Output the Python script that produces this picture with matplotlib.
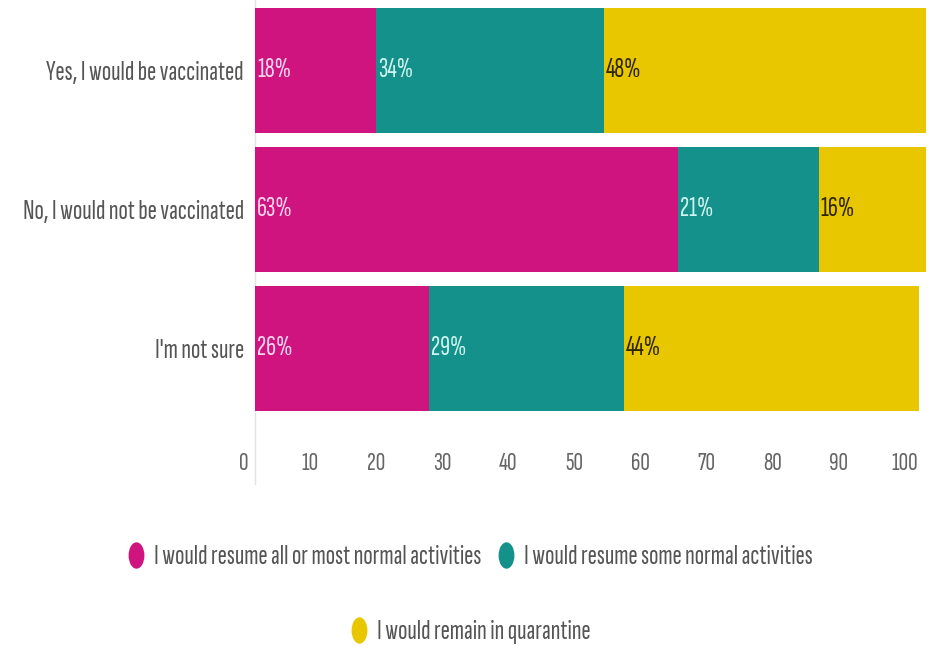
import numpy as np
import matplotlib
matplotlib.use("Agg")
import matplotlib.pyplot as plt
from matplotlib.path import Path
from matplotlib.transforms import Affine2D, ScaledTranslation
from matplotlib.lines import Line2D

plt.rcParams['font.family'] = ['Sofia Sans Extra Condensed', 'PT Sans Narrow', 'DejaVu Sans']

categories = ["Yes, I would be vaccinated", "No, I would not be vaccinated", "I'm not sure"]
series_names = ["I would resume all or most normal activities",
                "I would resume some normal activities",
                "I would remain in quarantine"]
resume_all = [18, 63, 26]
resume_some = [34, 21, 29]
quarantine = [48, 16, 44]
xticks = [0, 10, 20, 30, 40, 50, 60, 70, 80, 90, 100]

colors = ["#CF1480", "#13918A", "#E9C700"]
label_colors = ["#F9D6EC", "#CFF3EE", "#2E2600"]

fig = plt.figure(figsize=(9.38, 6.52), dpi=100)
ax = fig.add_axes([255 / 938, 1 - 440 / 652, 671 / 938, 440 / 652])

y = np.arange(len(categories))
left = np.zeros(len(categories))
for vals, col, lcol in zip([resume_all, resume_some, quarantine], colors, label_colors):
    vals = np.array(vals, dtype=float)
    ax.barh(y, vals, left=left, height=0.9, color=col, edgecolor='none')
    for yi, (l, v) in enumerate(zip(left, vals)):
        ax.text(l + 0.3, yi, f"{int(v)}%", va='center', ha='left',
                color=lcol, fontsize=20)
    left += vals

ax.set_xlim(0, 100)
ax.set_ylim(2.66, -0.504)
ax.set_yticks(y)
ax.set_yticklabels(categories, fontsize=20, color="#555555")
ax.tick_params(axis='y', length=0, pad=8)

ax.set_xticks(xticks)
ax.set_xticklabels([str(t) for t in xticks], fontsize=19, color="#666666")
ax.tick_params(axis='x', length=0, pad=9)
# tick labels sit a little left of their ticks, more so toward the right end
for t, lab in zip(xticks, ax.get_xticklabels()):
    shift = ScaledTranslation(-(11 + 0.1 * t) / 100, 0, fig.dpi_scale_trans)
    lab.set_transform(lab.get_transform() + shift)

for s in ax.spines.values():
    s.set_visible(False)
ax.axvline(0, ymin=-0.1, ymax=1, color="#E2E2E2", lw=1, clip_on=False, zorder=0)

# tall oval legend markers
oval = Path.unit_circle().transformed(Affine2D().scale(0.6, 1.0))


def handle(c):
    return Line2D([], [], marker=oval, color='none', markerfacecolor=c,
                  markeredgecolor='none', markersize=19)


leg_kw = dict(frameon=False, fontsize=20, handletextpad=0.25, columnspacing=0.5,
              handlelength=0.8, labelcolor="#555555")
fig.legend([handle(colors[0]), handle(colors[1])], series_names[:2], ncol=2,
           loc='center', bbox_to_anchor=(0.5, 1 - 557 / 652), **leg_kw)
fig.legend([handle(colors[2])], series_names[2:], ncol=1,
           loc='center', bbox_to_anchor=(0.5, 1 - 632 / 652), **leg_kw)

fig.savefig("out.png", dpi=100, facecolor='white')
